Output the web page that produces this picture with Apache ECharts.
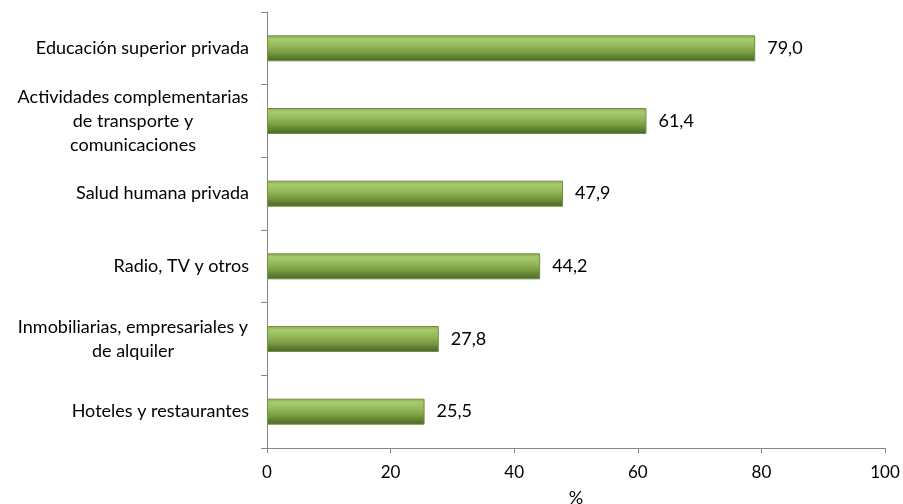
<!DOCTYPE html>
<html><head><meta charset="utf-8">
<script src="https://cdn.jsdelivr.net/npm/echarts@6/dist/echarts.min.js"></script>
<style>html,body{margin:0;padding:0;background:#fff}#c{width:903px;height:504px}</style>
</head><body><div id="c"></div>
<script>
var categories = [
  "Hoteles y restaurantes",
  "Inmobiliarias, empresariales y\nde alquiler",
  "Radio, TV y otros",
  "Salud humana privada",
  "Actividades complementarias\nde transporte y\ncomunicaciones",
  "Educación superior privada"
];
var values = [25.5, 27.8, 44.2, 47.9, 61.4, 79.0];
var xTicks = [0, 20, 40, 60, 80, 100];

var FONT = "Lato, 'Open Sans', sans-serif";
var FS = 18;
var chart = echarts.init(document.getElementById('c'), null, {renderer: 'canvas'});
chart.setOption({
  animation: false,
  backgroundColor: '#fff',
  grid: {left: 267, right: 18, top: 12, bottom: 56, containLabel: false, outerBoundsMode: 'none'},
  xAxis: {
    type: 'value', min: xTicks[0], max: xTicks[xTicks.length - 1], interval: 20,
    name: '%', nameLocation: 'middle', nameGap: 41,
    nameTextStyle: {fontFamily: FONT, fontSize: FS, color: '#000'},
    axisLine: {show: true, lineStyle: {color: '#868686', width: 1}},
    axisTick: {show: true, length: 5, lineStyle: {color: '#868686'}},
    axisLabel: {fontFamily: FONT, fontSize: 17, color: '#000', margin: 16},
    splitLine: {show: false}
  },
  yAxis: {
    type: 'category', data: categories,
    axisLine: {show: true, lineStyle: {color: '#868686', width: 1}},
    axisTick: {show: true, length: 6, lineStyle: {color: '#868686'}},
    axisLabel: {
      margin: 18, color: '#000', fontFamily: FONT, fontSize: FS, lineHeight: 24,
      formatter: function (v) {
        if (v.indexOf('\n') < 0) return v;
        return v.split('\n').map(function (s) { return '{c|' + s + '}'; }).join('\n');
      },
      rich: {c: {width: 232, align: 'center', fontFamily: FONT, fontSize: FS, lineHeight: 24, color: '#000'}}
    }
  },
  series: [{
    type: 'bar', data: values, barWidth: 26,
    itemStyle: {
      borderColor: '#6f8f3c', borderWidth: 1,
      color: new echarts.graphic.LinearGradient(0, 0, 0, 1, [
        {offset: 0, color: '#8aa955'},
        {offset: 0.15, color: '#a9cb70'},
        {offset: 0.4, color: '#94b85a'},
        {offset: 0.65, color: '#7c9c43'},
        {offset: 0.85, color: '#5c7b33'},
        {offset: 1, color: '#4c6629'}
      ])
    },
    label: {
      show: true, position: 'right', distance: 12, color: '#000',
      fontFamily: FONT, fontSize: FS,
      formatter: function (p) { return p.value.toFixed(1).replace('.', ','); }
    }
  }]
});
</script></body></html>
